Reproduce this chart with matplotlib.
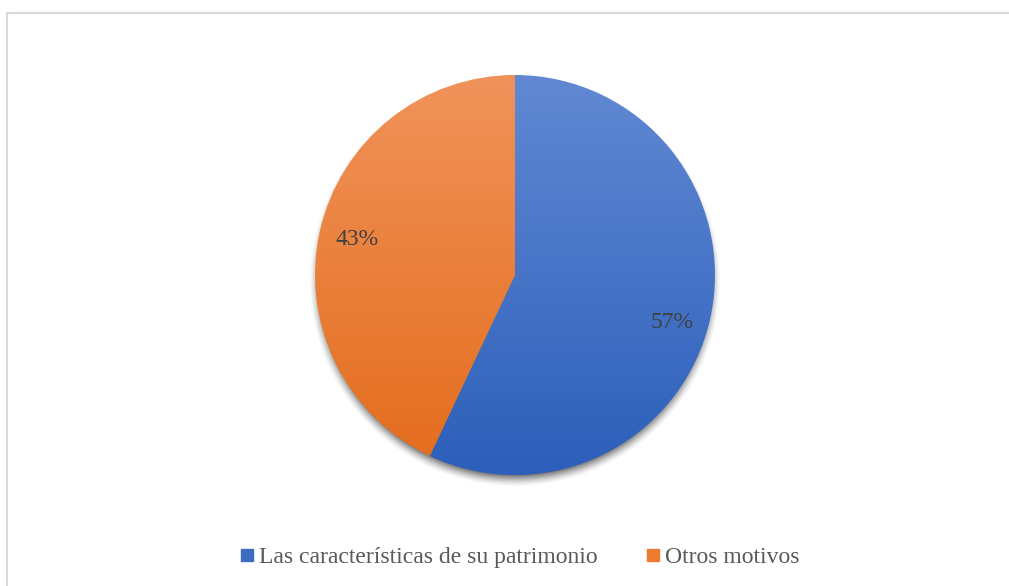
import numpy as np
import matplotlib
matplotlib.use("Agg")
import matplotlib.pyplot as plt
from matplotlib.colors import LinearSegmentedColormap
from matplotlib.lines import Line2D
from matplotlib.patches import Rectangle

categories = ["Las características de su patrimonio", "Otros motivos"]
values = [57, 43]

W, H = 1009, 586
fig = plt.figure(figsize=(W / 100, H / 100), dpi=100)
ax = fig.add_axes([0, 0, 1, 1])
ax.set_xlim(0, W)
ax.set_ylim(0, H)
ax.set_aspect("equal")
ax.axis("off")

serif = ["Liberation Serif", "DejaVu Serif"]

# chart frame
ax.add_patch(Rectangle((7, -10), W + 20, H - 13 + 10, fill=False,
                       edgecolor="#d9d9d9", lw=1.5, zorder=0))

cx, cy, r = 515, H - 275, 200

# soft drop shadow under the pie
yy, xx = np.mgrid[0:H, 0:W]
d = np.hypot(xx + 0.5 - cx, (H - yy - 0.5) - (cy - 6))
alpha = np.clip((r + 6 - d) / 12.0, 0, 1) ** 1.5 * 0.55
shadow = np.zeros((H, W, 4))
shadow[..., 3] = alpha
ax.imshow(shadow, extent=(0, W, 0, H), origin="upper", zorder=1,
          interpolation="bilinear")

wedges, texts, autotexts = ax.pie(
    values, center=(cx, cy), radius=r, startangle=90, counterclock=False,
    autopct="%.0f%%", pctdistance=0.81, frame=True,
    wedgeprops=dict(linewidth=0, zorder=2),
    textprops=dict(family=serif, fontsize=17, color="#404040"))
ax.set_xlim(0, W)
ax.set_ylim(0, H)
ax.axis("off")

gradients = [("#6189d3", "#2c5fba"), ("#f0935a", "#e46c1c")]
grad = np.linspace(0, 1, 256).reshape(-1, 1)
for w, (top, bot) in zip(wedges, gradients):
    cmap = LinearSegmentedColormap.from_list("g", [top, bot])
    im = ax.imshow(grad, cmap=cmap, aspect="auto",
                   extent=(cx - r, cx + r, cy - r, cy + r), origin="upper",
                   zorder=2)
    im.set_clip_path(w)
    w.set_facecolor("none")

for t in autotexts:
    t.set_zorder(5)
autotexts[0].set_position((cx + 157, cy - 48))

handles = [Line2D([], [], marker="s", ls="", markersize=9, color=c)
           for c in ("#3f6cc3", "#ec7a2f")]
fig.legend(handles, categories, loc="center", bbox_to_anchor=(520 / W, 1 - 557 / H),
           ncol=2, frameon=False, handlelength=0.5, handletextpad=0.25,
           columnspacing=2.1, prop=dict(family=serif, size=17),
           labelcolor="#595959")

fig.savefig("out.png", dpi=100)
